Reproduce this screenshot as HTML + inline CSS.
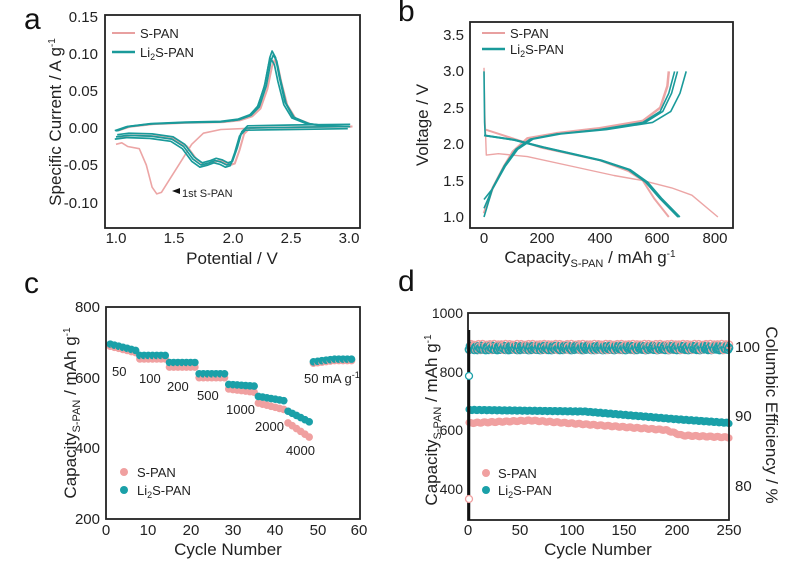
<!DOCTYPE html>
<html><head><meta charset="utf-8"><style>
body{margin:0;background:#fff;}
svg{display:block;font-family:"Liberation Sans",Arial,sans-serif;}
</style></head><body>
<svg id="s" width="800" height="567" viewBox="0 0 800 567" xmlns="http://www.w3.org/2000/svg">
<rect width="800" height="567" fill="#fff"/>
<g font-size="30" fill="#111"><text x="24" y="29">a</text><text x="398" y="21">b</text><text x="24" y="293">c</text><text x="398" y="291">d</text></g>

<!-- Panel a -->
<g id="pa"></g>
<rect x="105" y="15" width="255" height="213" fill="none" stroke="#222" stroke-width="1.8"/>
<g font-size="15" fill="#222" text-anchor="end">
<text x="98" y="22">0.15</text><text x="98" y="59">0.10</text><text x="98" y="96">0.05</text><text x="98" y="133">0.00</text><text x="98" y="170">-0.05</text><text x="98" y="208">-0.10</text></g>
<g font-size="15" fill="#222" text-anchor="middle">
<text x="116" y="243">1.0</text><text x="174" y="243">1.5</text><text x="233" y="243">2.0</text><text x="291" y="243">2.5</text><text x="349" y="243">3.0</text></g>
<text x="232" y="264" font-size="17" text-anchor="middle" fill="#222">Potential / V</text>
<text transform="translate(61,122) rotate(-90)" font-size="17" text-anchor="middle" fill="#222">Specific Current / A g<tspan font-size="10" dy="-6">-1</tspan></text>
<line x1="112" y1="33" x2="135" y2="33" stroke="#e8a0a0" stroke-width="2"/>
<text x="140" y="38" font-size="13" fill="#222">S-PAN</text>
<line x1="112" y1="52" x2="135" y2="52" stroke="#1a9a9a" stroke-width="2.5"/>
<text x="140" y="57" font-size="13" fill="#222">Li<tspan font-size="9" dy="3">2</tspan><tspan dy="-3">S-PAN</tspan></text>
<polygon points="172,191 180,188 180,194" fill="#111"/>
<text x="182" y="197" font-size="11" fill="#222">1st S-PAN</text>

<!-- Panel b -->
<g id="pb"></g>
<rect x="470" y="22" width="263" height="206" fill="none" stroke="#222" stroke-width="1.8"/>
<g font-size="15" fill="#222" text-anchor="end">
<text x="464" y="40">3.5</text><text x="464" y="76">3.0</text><text x="464" y="113">2.5</text><text x="464" y="149">2.0</text><text x="464" y="186">1.5</text><text x="464" y="222">1.0</text></g>
<g font-size="15" fill="#222" text-anchor="middle">
<text x="484" y="243">0</text><text x="542" y="243">200</text><text x="600" y="243">400</text><text x="657" y="243">600</text><text x="715" y="243">800</text></g>
<text x="590" y="263" font-size="17" text-anchor="middle" fill="#222">Capacity<tspan font-size="11" dy="4">S-PAN</tspan><tspan dy="-4"> / mAh g</tspan><tspan font-size="10" dy="-6">-1</tspan></text>
<text transform="translate(428,125) rotate(-90)" font-size="17" text-anchor="middle" fill="#222">Voltage / V</text>
<line x1="482" y1="33" x2="505" y2="33" stroke="#e8a0a0" stroke-width="2"/>
<text x="510" y="38" font-size="13" fill="#222">S-PAN</text>
<line x1="482" y1="49" x2="505" y2="49" stroke="#1a9a9a" stroke-width="2.5"/>
<text x="510" y="54" font-size="13" fill="#222">Li<tspan font-size="9" dy="3">2</tspan><tspan dy="-3">S-PAN</tspan></text>

<!-- Panel c -->
<g id="pc"></g>
<rect x="106" y="307" width="254" height="212" fill="none" stroke="#222" stroke-width="1.8"/>
<g font-size="15" fill="#222" text-anchor="end">
<text x="100" y="312">800</text><text x="100" y="383">600</text><text x="100" y="453">400</text><text x="100" y="524">200</text></g>
<g font-size="15" fill="#222" text-anchor="middle">
<text x="106" y="535">0</text><text x="148" y="535">10</text><text x="191" y="535">20</text><text x="233" y="535">30</text><text x="275" y="535">40</text><text x="318" y="535">50</text><text x="359" y="535">60</text></g>
<text x="228" y="555" font-size="17" text-anchor="middle" fill="#222">Cycle Number</text>
<text transform="translate(76,413) rotate(-90)" font-size="17" text-anchor="middle" fill="#222">Capacity<tspan font-size="11" dy="4">S-PAN</tspan><tspan dy="-4"> / mAh g</tspan><tspan font-size="10" dy="-6">-1</tspan></text>
<g font-size="13" fill="#222">
<text x="112" y="376">50</text><text x="139" y="383">100</text><text x="167" y="391">200</text><text x="197" y="400">500</text><text x="226" y="414">1000</text><text x="255" y="431">2000</text><text x="286" y="455">4000</text><text x="304" y="383">50 mA g<tspan font-size="9" dy="-5">-1</tspan></text></g>
<circle cx="124" cy="472" r="4" fill="#f0a0a0"/><text x="137" y="477" font-size="13" fill="#222">S-PAN</text>
<circle cx="124" cy="490" r="4" fill="#1aa0a8"/><text x="137" y="495" font-size="13" fill="#222">Li<tspan font-size="9" dy="3">2</tspan><tspan dy="-3">S-PAN</tspan></text>

<!-- Panel d -->
<g id="pd"></g>
<rect x="468" y="313" width="261" height="207" fill="none" stroke="#222" stroke-width="1.8"/>
<line x1="469" y1="330" x2="469" y2="520" stroke="#111" stroke-width="2.5"/>
<g font-size="14" fill="#222" text-anchor="end">
<text x="463" y="318">1000</text><text x="463" y="377">800</text><text x="463" y="435">600</text><text x="463" y="494">400</text></g>
<g font-size="15" fill="#222">
<text x="735" y="352">100</text><text x="735" y="421">90</text><text x="735" y="491">80</text></g>
<g font-size="15" fill="#222" text-anchor="middle">
<text x="468" y="535">0</text><text x="520" y="535">50</text><text x="572" y="535">100</text><text x="624" y="535">150</text><text x="677" y="535">200</text><text x="729" y="535">250</text></g>
<text x="598" y="555" font-size="17" text-anchor="middle" fill="#222">Cycle Number</text>
<text transform="translate(437,420) rotate(-90)" font-size="17" text-anchor="middle" fill="#222">Capacity<tspan font-size="11" dy="4">S-PAN</tspan><tspan dy="-4"> / mAh g</tspan><tspan font-size="10" dy="-6">-1</tspan></text>
<text transform="translate(766,415) rotate(90)" font-size="17" text-anchor="middle" fill="#222">Columbic Efficiency / %</text>
<circle cx="486" cy="473" r="4" fill="#f0a0a0"/><text x="498" y="478" font-size="13" fill="#222">S-PAN</text>
<circle cx="486" cy="490" r="4" fill="#1aa0a8"/><text x="498" y="495" font-size="13" fill="#222">Li<tspan font-size="9" dy="3">2</tspan><tspan dy="-3">S-PAN</tspan></text>
<circle cx="469" cy="499" r="3.5" fill="#fff" stroke="#f0a0a0" stroke-width="1.3"/>
<circle cx="469" cy="376" r="3.5" fill="#fff" stroke="#1aa0a8" stroke-width="1.3"/>
</svg>
<script>
var NS="http://www.w3.org/2000/svg";
function el(g,t,a){var e=document.createElementNS(NS,t);for(var k in a)e.setAttribute(k,a[k]);document.getElementById(g).appendChild(e);}
function line(g,pts,fx,fy,c,w){el(g,"polyline",{points:pts.map(function(p){return fx(p[0]).toFixed(1)+","+fy(p[1]).toFixed(1)}).join(" "),fill:"none",stroke:c,"stroke-width":w,"stroke-linejoin":"round"});}
var PK="#eca5a5",TL="#1a9a9a";
// a
var ax=function(v){return 116+(v-1)*116.5},ay=function(i){return 128-i*740};
var up=[[1,-0.004],[1.1,0.002],[1.3,0.006],[1.6,0.008],[1.9,0.009],[2.05,0.012],[2.15,0.018],[2.22,0.03],[2.28,0.06],[2.32,0.095],[2.34,0.104],[2.37,0.095],[2.4,0.07],[2.45,0.035],[2.52,0.015],[2.65,0.006],[2.8,0.003],[3,0.002]];
var dn=[[3,0.002],[2.5,0.001],[2.12,0],[2.07,-0.008],[2.03,-0.03],[1.99,-0.048],[1.95,-0.05],[1.9,-0.046],[1.85,-0.044],[1.8,-0.047],[1.73,-0.05],[1.66,-0.042],[1.58,-0.025],[1.48,-0.015],[1.3,-0.011],[1.1,-0.01],[1,-0.012]];
line("pa",[[1,-0.022],[1.05,-0.02],[1.1,-0.025],[1.2,-0.028],[1.26,-0.05],[1.31,-0.08],[1.35,-0.089],[1.39,-0.087],[1.45,-0.072],[1.55,-0.047],[1.65,-0.022],[1.75,-0.007],[1.9,-0.002],[2.2,0]],ax,ay,PK,1.6);
line("pa",up.map(function(p){return [p[0]+0.02,p[1]*0.88]}),ax,ay,PK,2);
line("pa",dn.map(function(p){return [p[0]+0.03,p[1]]}),ax,ay,PK,2);
[0,0.01,-0.01].forEach(function(d,i){line("pa",up.map(function(p){return [p[0]+d,p[1]*(1-i*0.05)]}),ax,ay,TL,1.7);line("pa",dn.map(function(p){return [p[0]+d,p[1]+d*0.3]}),ax,ay,TL,1.7);});
// b
var bx=function(c){return 484+c*0.2888},by=function(v){return 217-(v-1)*72.8};
line("pb",[[0,3.05],[3,2.4],[8,1.85],[50,1.87],[150,1.83],[300,1.7],[450,1.57],[550,1.5],[650,1.4],[720,1.3],[810,1.0]],bx,by,PK,1.4);
line("pb",[[0,1.05],[30,1.4],[70,1.7],[100,1.9],[150,2.08],[250,2.15],[400,2.22],[550,2.32],[610,2.5],[635,2.8],[640,3.0]],bx,by,PK,2.5);
line("pb",[[5,2.2],[100,2.08],[200,1.95],[400,1.78],[500,1.63],[550,1.5],[590,1.25],[640,1.0]],bx,by,PK,2);
[[0,660],[0.03,670],[-0.03,700]].forEach(function(q,i){var s=q[1]/660;
line("pb",[[0,1.0+i*0.12],[30*s,1.4],[70*s,1.7],[110*s,1.93],[160*s,2.07],[250*s,2.14],[400*s,2.2],[550*s,2.3],[610*s,2.45],[640*s,2.7],[q[1],3.0]],bx,by,TL,1.6);
line("pb",[[0,2.12],[100,2.06],[200,1.96],[400,1.78],[500,1.65],[560,1.48],[610,1.25],[672,1.0]].map(function(p){return [p[0]+i*3,p[1]]}),bx,by,TL,1.8);});
line("pb",[[0,3.0],[2,2.3],[4,2.12]],bx,by,TL,1.6);
// c
var cx=function(n){return 106+n*4.233},cy=function(v){return 519-(v-200)*0.3533};
for(var n=1;n<=58;n++){var t,p;
if(n<=7){t=695-(n-1)*3;p=t-6;}else if(n<=14){t=663;p=653;}else if(n<=21){t=643;p=630;}else if(n<=28){t=611;p=600;}else if(n<=35){t=581-(n-29)*0.8;p=568-(n-29)*1.5;}
else if(n<=42){t=547-(n-36)*2;p=528-(n-36)*3;}else if(n<=48){t=505-(n-43)*6;p=472-(n-43)*8;}else{t=645+Math.min(n-49,5)*1.5;p=t-4;}
el("pc","circle",{cx:cx(n),cy:cy(p),r:3.8,fill:"#f0a0a0"});el("pc","circle",{cx:cx(n),cy:cy(t),r:3.8,fill:"#1aa0a8"});}
// d
var dx=function(n){return 468+n*1.044},dy=function(v){return 520-(v-295)*0.2936};
for(var n=1;n<=250;n+=1){
var p=n<60?625+n*0.15:(n<190?634-(n-60)*0.25:(n<205?601-(n-190)*1.2:583-(n-205)*0.15));
var t=n<110?670-n*0.05:(n<200?665-(n-110)*0.3:638-(n-200)*0.25);
p+=Math.sin(n*0.9)*2;t+=Math.sin(n*1.3)*2;
el("pd","circle",{cx:dx(n),cy:dy(p),r:3.6,fill:"#f0a0a0"});
el("pd","circle",{cx:dx(n),cy:dy(t),r:3.6,fill:"#1aa0a8"});
el("pd","circle",{cx:dx(n),cy:347+Math.sin(n*1.7)*3,r:3.6,fill:"none",stroke:"#f0a0a0","stroke-width":1.4});
el("pd","circle",{cx:dx(n),cy:348+Math.sin(n*2.3)*2,r:3.6,fill:"none",stroke:"#1aa0a8","stroke-width":1.6});}
</script>
</body></html>
